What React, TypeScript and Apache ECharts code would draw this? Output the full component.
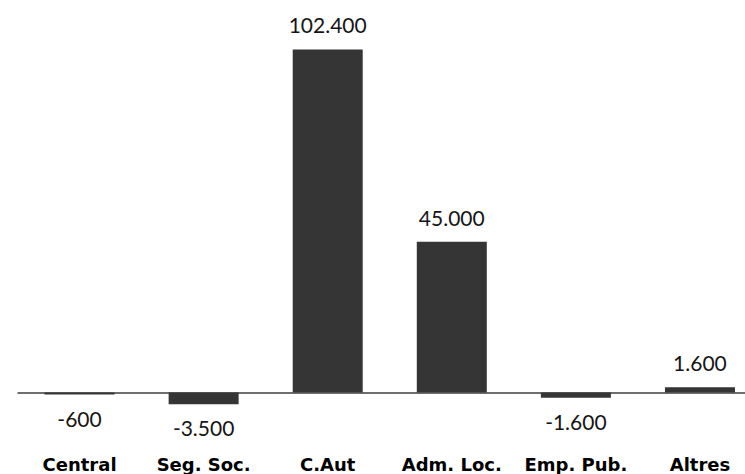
import React, { useEffect, useRef } from "react";
import * as echarts from "echarts";

const categories = ["Central", "Seg. Soc.", "C.Aut", "Adm. Loc.", "Emp. Pub.", "Altres"];
const values = [-600, -3500, 102400, 45000, -1600, 1600];

function fmt(v: number): string {
  const s = Math.abs(v).toString().replace(/\B(?=(\d{3})+(?!\d))/g, ".");
  return (v < 0 ? "-" : "") + s;
}

export default function App() {
  const ref = useRef<HTMLDivElement>(null);
  useEffect(() => {
    document.body.style.margin = "0";
    document.body.style.overflow = "hidden";
    const chart = echarts.init(ref.current!, null, { renderer: "svg" });
    const valueLabel = {
      show: true,
      fontFamily: "Lato",
      fontSize: 21,
      color: "#151515",
      formatter: (p: any) => fmt(p.value),
    };
    chart.setOption({
      animation: false,
      backgroundColor: "#ffffff",
      grid: { left: 17.5, right: 0, top: 24, height: 402, containLabel: false },
      xAxis: {
        type: "category",
        data: categories,
        axisLine: { show: false, onZero: false },
        axisTick: { show: false },
        splitLine: { show: false },
        axisLabel: {
          margin: 29,
          fontFamily: "DejaVu Sans",
          fontWeight: "bold",
          fontSize: 18,
          color: "#000000",
          interval: 0,
        },
      },
      yAxis: {
        type: "value",
        min: -10000,
        max: 110000,
        show: false,
        splitLine: { show: false },
      },
      series: [
        {
          type: "bar",
          barWidth: 70,
          data: values.map((v) => ({
            value: v,
            label: { ...valueLabel, position: v < 0 ? "bottom" : "top", distance: v < 0 ? 13 : 14 },
          })),
          itemStyle: { color: "#353535" },
          markLine: {
            silent: true,
            symbol: "none",
            label: { show: false },
            lineStyle: { color: "#6e6e6e", width: 2, type: "solid" },
            data: [{ yAxis: 0 }],
            z: 1,
          },
          z: 2,
        },
      ],
    });
    return () => chart.dispose();
  }, []);
  return <div ref={ref} style={{ width: 762, height: 474 }} />;
}
